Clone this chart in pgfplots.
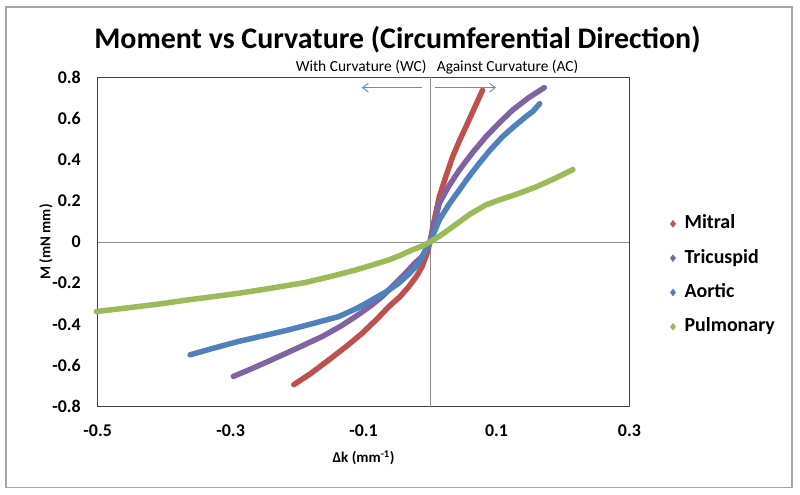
\documentclass[border=0pt]{standalone}
\usepackage{pgfplots}
\pgfplotsset{compat=1.18}
\usepackage{fontspec}
\setmainfont{Carlito}
\usetikzlibrary{arrows.meta}
\definecolor{cRed}{HTML}{C0504D}
\definecolor{cPurple}{HTML}{8064A2}
\definecolor{cBlue}{HTML}{4F81BD}
\definecolor{cGreen}{HTML}{9BBB59}
\definecolor{cArrow}{HTML}{5B8FC9}
\begin{document}
\begin{tikzpicture}[x=1bp,y=1bp]
\useasboundingbox (0,0) rectangle (800,495);
\draw[color=black!35, line width=1.2bp] (6,7.5) rectangle (792,488);
\node[font=\fontsize{30}{33}\selectfont\bfseries, anchor=base, inner sep=0pt] at (397.5,446) {Moment vs Curvature (Circumferential Direction)};
\begin{axis}[
  at={(97.7bp,88.3bp)}, anchor=south west, scale only axis,
  width=531.7bp, height=329.4bp,
  xmin=-0.5, xmax=0.3, ymin=-0.8, ymax=0.8,
  xtick={-0.5,-0.3,-0.1,0.1,0.3},
  ytick={-0.8,-0.6,-0.4,-0.2,0,0.2,0.4,0.6,0.8},
  major tick length=0pt,
  axis line style={draw=black!75, line width=0.9bp},
  /pgf/number format/assume math mode=true,
  /pgf/number format/fixed,
  /pgf/number format/precision=1,
  tick label style={font=\fontsize{18}{20}\selectfont\bfseries, inner sep=0pt},
  yticklabel style={anchor=east, xshift=-16.7bp},
  xticklabel style={anchor=base, yshift=-30.3bp},
  extra x ticks={0}, extra y ticks={0},
  extra x tick labels={}, extra y tick labels={},
  extra tick style={grid=major, major grid style={draw=black!45, line width=0.9bp}, major tick length=0pt},
  clip=false,
  legend style={draw=none, fill=none, at={(axis description cs:1.071,0.589)}, anchor=north west,
    font=\fontsize{20}{22}\selectfont\bfseries, row sep=16.3bp, column sep=0pt,
    nodes={inner sep=0pt, text height=14bp, text depth=4bp}},
  legend cell align=left,
  legend image code/.code={\draw[#1] plot coordinates {(0.1cm,0cm)};},
  every axis plot/.append style={line width=5.5bp, line cap=round, line join=round},
]
\addplot[cRed, mark=none, forget plot] coordinates {
(-0.205,-0.693) (-0.18,-0.64) (-0.152,-0.572) (-0.125,-0.505) (-0.102,-0.443) (-0.08,-0.375) (-0.062,-0.314) (-0.045,-0.265) (-0.032,-0.217) (-0.02,-0.165) (-0.012,-0.12) (-0.005,-0.06) (0,0) (0.006,0.1) (0.014,0.22) (0.024,0.32) (0.034,0.414) (0.044,0.49) (0.054,0.559) (0.066,0.645) (0.079,0.737)};
\addplot[cPurple, mark=none, forget plot] coordinates {
(-0.296,-0.653) (-0.268,-0.615) (-0.238,-0.572) (-0.2,-0.516) (-0.162,-0.459) (-0.135,-0.41) (-0.112,-0.362) (-0.09,-0.312) (-0.072,-0.265) (-0.055,-0.21) (-0.037,-0.152) (-0.022,-0.1) (-0.012,-0.071) (0,0) (0.014,0.188) (0.028,0.27) (0.044,0.349) (0.063,0.43) (0.084,0.511) (0.104,0.578) (0.124,0.640) (0.148,0.70) (0.172,0.750)};
\addplot[cBlue, mark=none, forget plot] coordinates {
(-0.361,-0.548) (-0.325,-0.515) (-0.288,-0.483) (-0.25,-0.455) (-0.213,-0.427) (-0.175,-0.395) (-0.137,-0.362) (-0.11,-0.322) (-0.087,-0.281) (-0.065,-0.24) (-0.047,-0.2) (-0.03,-0.15) (-0.017,-0.103) (0,0) (0.014,0.107) (0.028,0.18) (0.044,0.252) (0.058,0.315) (0.074,0.382) (0.09,0.445) (0.109,0.511) (0.126,0.56) (0.144,0.608) (0.155,0.635) (0.165,0.672)};
\addplot[cGreen, mark=none, forget plot] coordinates {
(-0.502,-0.338) (-0.45,-0.318) (-0.4,-0.298) (-0.364,-0.281) (-0.325,-0.265) (-0.288,-0.249) (-0.24,-0.225) (-0.188,-0.197) (-0.15,-0.168) (-0.112,-0.136) (-0.085,-0.11) (-0.062,-0.087) (-0.045,-0.065) (-0.027,-0.039) (-0.012,-0.02) (0,0) (0.015,0.03) (0.034,0.074) (0.06,0.135) (0.084,0.18) (0.104,0.204) (0.13,0.232) (0.160,0.268) (0.19,0.312) (0.215,0.352)};
\addlegendimage{only marks, mark=diamond*, mark size=3.5bp, line width=0.4bp, color=cRed}
\addlegendentry{\hspace{9bp}Mitral}
\addlegendimage{only marks, mark=diamond*, mark size=3.5bp, line width=0.4bp, color=cPurple}
\addlegendentry{\hspace{9bp}Tricuspid}
\addlegendimage{only marks, mark=diamond*, mark size=3.5bp, line width=0.4bp, color=cBlue}
\addlegendentry{\hspace{9bp}Aortic}
\addlegendimage{only marks, mark=diamond*, mark size=3.5bp, line width=0.4bp, color=cGreen}
\addlegendentry{\hspace{9bp}Pulmonary}
\end{axis}
\node[font=\fontsize{15.5}{17}\selectfont, anchor=base east, inner sep=0pt] at (426.7,423) {With Curvature (WC)};
\node[font=\fontsize{15.5}{17}\selectfont, anchor=base west, inner sep=0pt] at (436.7,423) {Against Curvature (AC)};
\draw[cArrow, line width=0.9bp, -{Straight Barb[length=6bp,width=9bp]}] (421.7,407.3) -- (361.7,407.3);
\draw[cArrow, line width=0.9bp, -{Straight Barb[length=6bp,width=9bp]}] (435,407.3) -- (496,407.3);
\node[font=\fontsize{15}{17}\selectfont\bfseries, anchor=base, inner sep=0pt] at (363.5,32) {Δk (mm\textsuperscript{-1})};
\node[font=\fontsize{15}{17}\selectfont\bfseries, anchor=center, rotate=90, inner sep=0pt] at (46,253) {M (mN mm)};
\end{tikzpicture}
\end{document}
